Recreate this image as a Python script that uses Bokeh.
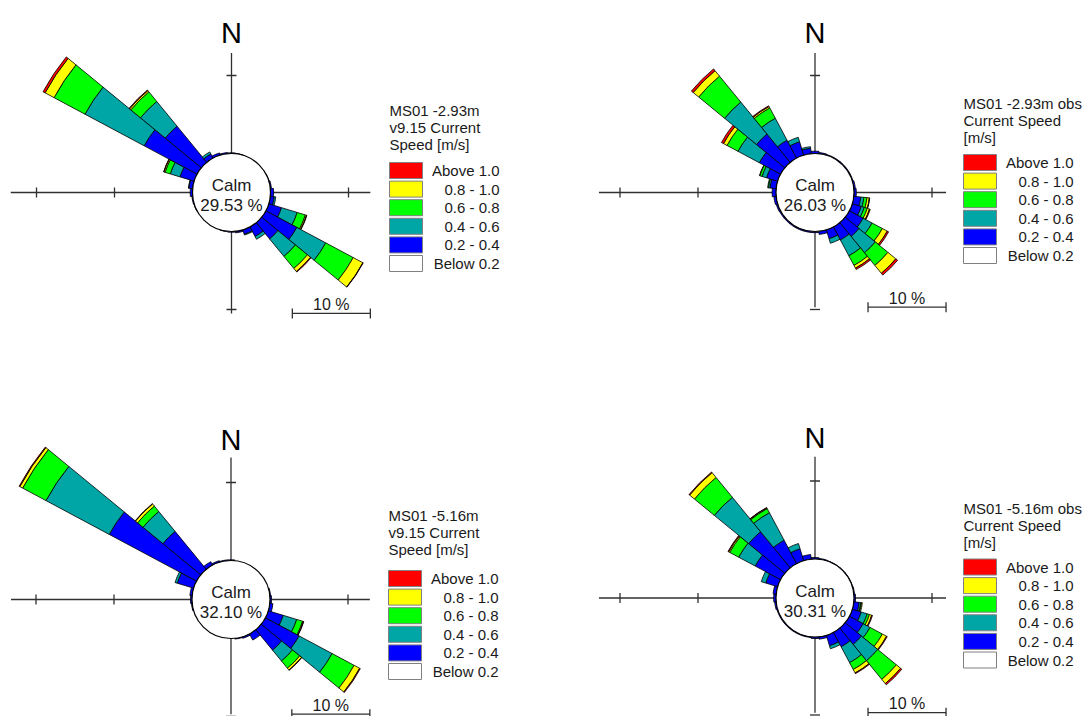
from bokeh.plotting import figure
from bokeh.layouts import gridplot
from bokeh.models import Range1d, ColumnDataSource
from bokeh.core.properties import value
from bokeh.embed import file_html
from bokeh.resources import INLINE

# ---------------- data ----------------
directions = [0.0, 11.25, 22.5, 33.75, 45.0, 56.25, 67.5, 78.75, 90.0, 101.25, 112.5, 123.75,
              135.0, 146.25, 157.5, 168.75, 180.0, 191.25, 202.5, 213.75, 225.0, 236.25, 247.5,
              258.75, 270.0, 281.25, 292.5, 303.75, 315.0, 326.25, 337.5, 348.75]
sector_width = 11.25

bin_labels = ["0.2 - 0.4", "0.4 - 0.6", "0.6 - 0.8", "0.8 - 1.0", "Above 1.0"]
bin_colors = ["#0000FF", "#00A5A5", "#00FF00", "#FFFF00", "#FF0000"]
legend_labels = ["Above 1.0", "0.8 - 1.0", "0.6 - 0.8", "0.4 - 0.6", "0.2 - 0.4", "Below 0.2"]
legend_colors = ["#FF0000", "#FFFF00", "#00FF00", "#00A5A5", "#0000FF", "#FFFFFF"]

# frequency [%] per direction sector, one list per speed bin
# MS01 -2.93m v9.15
tl_02_04 = [0.1, 0.05, 0, 0, 0, 0, 0.05, 0.15, 0.4, 0.5, 1.7, 4.5, 2.7, 1.4, 0.6, 0.2,
            0.1, 0.05, 0, 0, 0, 0, 0.05, 0.1, 0.3, 0.5, 1.9, 7.7, 6.0, 0.6, 0.3, 0.15]
tl_04_06 = [0, 0, 0, 0, 0, 0, 0, 0, 0, 0.2, 2.1, 4.2, 2.9, 0.4, 0.1, 0,
            0, 0, 0, 0, 0, 0, 0, 0, 0, 0.05, 1.3, 8.6, 4.1, 0.3, 0, 0]
tl_06_08 = [0, 0, 0, 0, 0, 0, 0, 0, 0, 0, 1.1, 4.0, 2.0, 0, 0, 0,
            0, 0, 0, 0, 0, 0, 0, 0, 0, 0, 0.7, 4.5, 1.6, 0, 0, 0]
tl_08_10 = [0, 0, 0, 0, 0, 0, 0, 0, 0, 0, 0.15, 1.4, 0.5, 0, 0, 0,
            0, 0, 0, 0, 0, 0, 0, 0, 0, 0, 0.15, 1.3, 0.2, 0, 0, 0]
tl_above = [0, 0, 0, 0, 0, 0, 0, 0, 0, 0, 0.05, 0.05, 0.1, 0, 0, 0,
            0, 0, 0, 0, 0, 0, 0, 0, 0, 0, 0.05, 0.3, 0.1, 0, 0, 0]

# MS01 -2.93m obs
tr_02_04 = [0.3, 0.15, 0.1, 0.1, 0.1, 0.1, 0.1, 0.2, 0.3, 0.9, 1.2, 2.0, 2.3, 1.9, 1.2, 0.4,
            0.15, 0.15, 0.15, 0.15, 0.15, 0.15, 0.2, 0.3, 0.5, 0.8, 1.5, 3.1, 4.7, 2.6, 1.8, 0.7]
tr_04_06 = [0, 0, 0, 0, 0, 0, 0, 0, 0, 0.4, 0.4, 1.3, 2.7, 2.3, 0.6, 0,
            0, 0, 0, 0, 0, 0, 0, 0, 0, 0.2, 0.6, 3.1, 5.3, 3.2, 0.6, 0.2]
tr_06_08 = [0, 0, 0, 0, 0, 0, 0, 0, 0, 0.4, 0.4, 1.5, 2.1, 1.4, 0, 0,
            0, 0, 0, 0, 0, 0, 0, 0, 0, 0.1, 0.3, 1.6, 4.3, 1.5, 0, 0]
tr_08_10 = [0, 0, 0, 0, 0, 0, 0, 0, 0, 0.3, 0.3, 0.7, 1.3, 0.4, 0, 0,
            0, 0, 0, 0, 0, 0, 0, 0, 0, 0, 0.05, 0.5, 0.9, 0.2, 0, 0]
tr_above = [0, 0, 0, 0, 0, 0, 0, 0, 0, 0.05, 0.1, 0.2, 0.3, 0.2, 0, 0,
            0, 0, 0, 0, 0, 0, 0, 0, 0, 0, 0, 0.3, 0.3, 0.1, 0, 0]

# MS01 -5.16m v9.15
bl_02_04 = [0.1, 0, 0, 0, 0, 0, 0, 0.1, 0.2, 0.4, 2.0, 4.9, 3.4, 0.9, 0.2, 0.1,
            0, 0, 0, 0, 0, 0, 0, 0.1, 0.2, 0.3, 2.2, 12.7, 6.3, 0.5, 0.2, 0.1]
bl_04_06 = [0, 0, 0, 0, 0, 0, 0, 0, 0, 0, 1.8, 4.8, 1.8, 0, 0, 0,
            0, 0, 0, 0, 0, 0, 0, 0, 0, 0, 0.3, 9.2, 3.3, 0, 0, 0]
bl_06_08 = [0, 0, 0, 0, 0, 0, 0, 0, 0, 0, 0.8, 3.2, 1.2, 0, 0, 0,
            0, 0, 0, 0, 0, 0, 0, 0, 0, 0, 0, 3.4, 0.9, 0, 0, 0]
bl_08_10 = [0, 0, 0, 0, 0, 0, 0, 0, 0, 0, 0.1, 0.8, 0.3, 0, 0, 0,
            0, 0, 0, 0, 0, 0, 0, 0, 0, 0, 0, 0.4, 0.35, 0, 0, 0]
bl_above = [0, 0, 0, 0, 0, 0, 0, 0, 0, 0, 0.05, 0.1, 0.05, 0, 0, 0,
            0, 0, 0, 0, 0, 0, 0, 0, 0, 0, 0, 0.1, 0.05, 0, 0, 0]

# MS01 -5.16m obs
br_02_04 = [0.2, 0.1, 0.05, 0.05, 0.05, 0.05, 0.05, 0.1, 0.2, 0.7, 1.2, 2.0, 2.7, 2.1, 1.4, 0.3,
            0.2, 0.1, 0.1, 0.1, 0.1, 0.1, 0.1, 0.2, 0.3, 0.4, 1.6, 3.7, 6.0, 3.4, 1.6, 0.6]
br_04_06 = [0, 0, 0, 0, 0, 0, 0, 0, 0, 0.2, 0.8, 1.0, 2.7, 2.3, 0.4, 0,
            0, 0, 0, 0, 0, 0, 0, 0, 0, 0, 0.6, 2.4, 5.7, 4.0, 0.7, 0]
br_06_08 = [0, 0, 0, 0, 0, 0, 0, 0, 0, 0.1, 0.3, 1.8, 3.1, 1.0, 0, 0,
            0, 0, 0, 0, 0, 0, 0, 0, 0, 0, 0, 1.3, 3.3, 0.6, 0, 0]
br_08_10 = [0, 0, 0, 0, 0, 0, 0, 0, 0, 0.1, 0.3, 0.6, 0.7, 0.5, 0, 0,
            0, 0, 0, 0, 0, 0, 0, 0, 0, 0, 0, 0.15, 0.8, 0.1, 0, 0]
br_above = [0, 0, 0, 0, 0, 0, 0, 0, 0, 0, 0.1, 0.1, 0.2, 0.1, 0, 0,
            0, 0, 0, 0, 0, 0, 0, 0, 0, 0, 0, 0.1, 0.1, 0.05, 0, 0]

calm_values = ["29.53 %", "26.03 %", "32.10 %", "30.31 %"]
legend_titles = [["MS01 -2.93m", "v9.15 Current", "Speed [m/s]"],
                 ["MS01 -2.93m obs", "Current Speed", "[m/s]"],
                 ["MS01 -5.16m", "v9.15 Current", "Speed [m/s]"],
                 ["MS01 -5.16m obs", "Current Speed", "[m/s]"]]
scale_label = "10 %"
north_label = "N"
calm_label = "Calm"

# ---------------- layout ----------------
PX = 7.8          # pixels per percent
R0 = 5.0          # calm circle radius, in percent units
W, H = 545, 358
FONT = value("Liberation Sans")
TXT = "#1a1a1a"

panels = [
    dict(series=[tl_02_04, tl_04_06, tl_06_08, tl_08_10, tl_above], c=(231, 192),
         axis=(23.3, 12.8, 12.9, 10.5), leg=(158, [-82, -65, -48], -30)),
    dict(series=[tr_02_04, tr_04_06, tr_06_08, tr_08_10, tr_above], c=(269.5, 192),
         axis=(22.7, 11.8, 12.9, 9.7), leg=(148.5, [-89, -72, -55], -38)),
    dict(series=[bl_02_04, bl_04_06, bl_06_08, bl_08_10, bl_above], c=(230.5, 241),
         axis=(23.2, 12.8, 13.2, 9.7), leg=(157.5, [-84, -67, -50], -29)),
    dict(series=[br_02_04, br_04_06, br_06_08, br_08_10, br_above], c=(269.5, 239.5),
         axis=(22.7, 11.8, 13.1, 9.7), leg=(148.5, [-90, -73, -56], -39)),
]


def make_panel(k, cfg):
    cx, cy = cfg["c"]
    p = figure(width=W, height=H,
               x_range=Range1d(-cx / PX, (W - cx) / PX),
               y_range=Range1d(-(H - cy) / PX, cy / PX),
               output_backend="svg", toolbar_location=None,
               x_axis_location=None, y_axis_location=None, min_border=0)
    p.grid.visible = False
    p.outline_line_color = None
    p.background_fill_color = "white"

    # compass axes
    left, right, top, bottom = cfg["axis"]
    axc = "#303030"
    p.segment(x0=[-(R0 + left), 0], y0=[0, -(R0 + bottom)],
              x1=[R0 + right, 0], y1=[0, R0 + top], line_color=axc, line_width=1.3)
    tk = 5.0 / PX
    hx = [-(R0 + 20), -(R0 + 10), R0 + 10]
    p.segment(x0=hx, y0=[-tk] * 3, x1=hx, y1=[tk] * 3, line_color=axc, line_width=1.3)
    vy = [R0 + 10, -(R0 + 10)]
    p.segment(x0=[-tk] * 2, y0=vy, x1=[tk] * 2, y1=vy, line_color=axc, line_width=1.3)

    # stacked sectors
    d = dict(start=[], end=[], inner=[], outer=[], color=[])
    for i, b in enumerate(directions):
        cum = R0
        for j, ser in enumerate(cfg["series"]):
            v = ser[i]
            if v <= 0:
                continue
            d["start"].append(90 - b - sector_width / 2)
            d["end"].append(90 - b + sector_width / 2)
            d["inner"].append(cum)
            d["outer"].append(cum + v)
            d["color"].append(bin_colors[j])
            cum += v
    src = ColumnDataSource(d)
    p.annular_wedge(x=0, y=0, inner_radius="inner", outer_radius="outer",
                    start_angle="start", end_angle="end", start_angle_units="deg",
                    end_angle_units="deg", fill_color="color", line_color="black",
                    line_width=0.8, source=src)

    # calm circle
    p.circle(x=[0], y=[0], radius=R0, fill_color="white", line_color="black", line_width=1.2)
    p.text(x=[0, 0], y=[7 / PX, -13 / PX], text=[calm_label, calm_values[k]],
           text_align="center", text_baseline="middle", text_font=FONT,
           text_font_size=value("17px"), text_color=TXT)

    # north label
    p.text(x=[0], y=[160 / PX], text=[north_label], text_align="center",
           text_baseline="middle", text_font=FONT, text_font_size=value("29px"),
           text_color="black")

    # 10 % scale bar
    sy = -(R0 + bottom)
    sx1 = R0 + right
    sx0 = sx1 - 10
    p.segment(x0=[sx0, sx0, sx1], y0=[sy, sy - tk, sy - tk],
              x1=[sx1, sx0, sx1], y1=[sy, sy + tk, sy + tk], line_color=axc, line_width=1.3)
    p.text(x=[(sx0 + sx1) / 2], y=[sy + 9 / PX], text=[scale_label], text_align="center",
           text_baseline="middle", text_font=FONT, text_font_size=value("16px"),
           text_color=TXT)

    # legend
    lx, title_ys, sw_top = cfg["leg"]
    titles = legend_titles[k]
    p.text(x=[lx / PX] * len(titles), y=[-t / PX for t in title_ys],
           text=titles, text_align="left", text_baseline="middle", text_font=FONT,
           text_font_size=value("15px"), text_color=TXT)
    pitch = 18.6
    ys = [-(sw_top + 8 + pitch * n) / PX for n in range(len(legend_labels))]
    p.rect(x=[(lx + 16.5) / PX] * len(legend_labels), y=ys, width=33, height=16,
           width_units="screen", height_units="screen", fill_color=legend_colors,
           line_color="#808080", line_width=1)
    p.text(x=[(lx + 110) / PX] * len(legend_labels), y=ys, text=legend_labels,
           text_align="right", text_baseline="middle", text_font=FONT,
           text_font_size=value("15px"), text_color=TXT)
    return p


figs = [make_panel(k, cfg) for k, cfg in enumerate(panels)]
grid = gridplot([[figs[0], figs[1]], [figs[2], figs[3]]], toolbar_location=None)

open("out.html", "w").write(file_html(grid, INLINE))
